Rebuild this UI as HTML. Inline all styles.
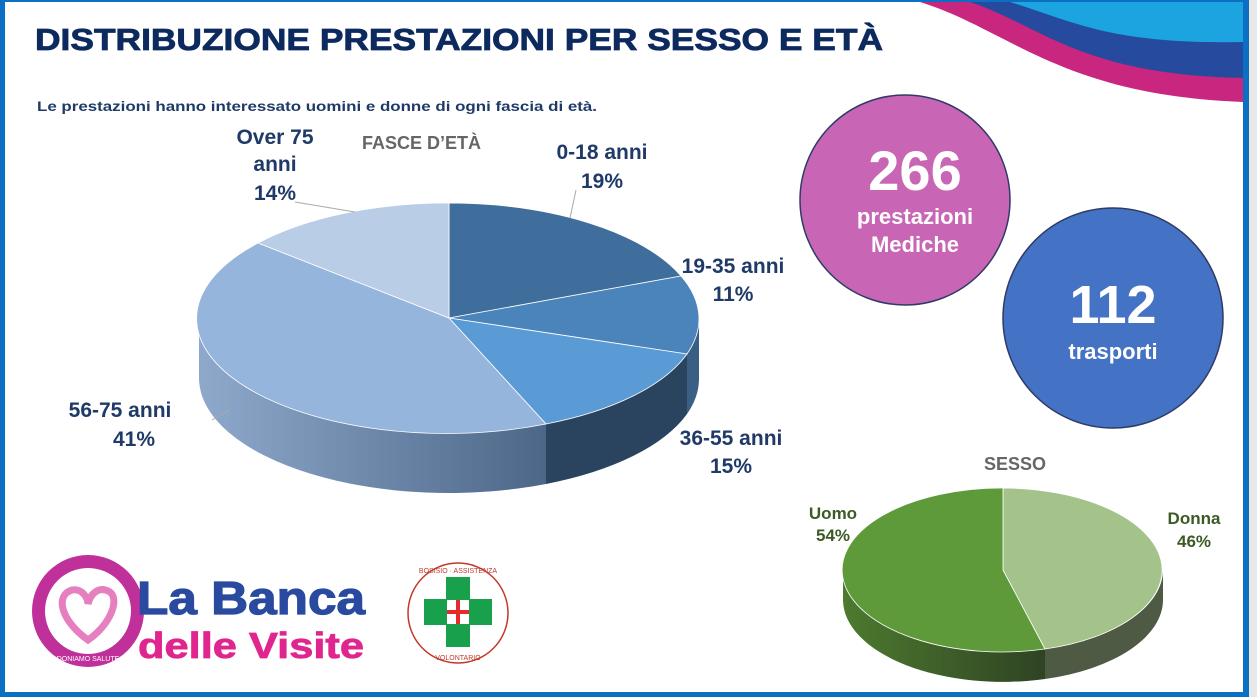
<!DOCTYPE html>
<html><head><meta charset="utf-8"><style>
html,body{margin:0;padding:0;background:#e8e8e8;}
svg{display:block;font-family:"Liberation Sans",sans-serif;}
</style></head><body>
<svg width="1257" height="697" viewBox="0 0 1257 697" xmlns="http://www.w3.org/2000/svg">
<defs>
<linearGradient id="s5675" x1="0" x2="1" y1="0" y2="0"><stop offset="0" stop-color="#8fa9cc"/><stop offset="1" stop-color="#4c6788"/></linearGradient>
<linearGradient id="su" x1="0" x2="1"><stop offset="0" stop-color="#4d7a2e"/><stop offset="1" stop-color="#2f4324"/></linearGradient>
</defs>
<rect x="0" y="0" width="1257" height="697" fill="#e8e8e8"/>
<rect x="0" y="0" width="1249" height="697" fill="#0b6fc4"/>
<rect x="5" y="2" width="1238" height="690" fill="#ffffff"/>
<!-- waves -->
<path d="M920,2 C1010,30 1060,95 1243,102 L1243,2 Z" fill="#c8267f"/>
<path d="M970,2 C1040,25 1080,75 1243,78 L1243,2 Z" fill="#264a9e"/>
<path d="M1010,2 C1070,20 1110,45 1243,42 L1243,2 Z" fill="#1ba4e0"/>
<text x="35" y="50" font-size="31" font-weight="bold" fill="#0d2a5e" stroke="#0d2a5e" stroke-width="0.8" textLength="848" lengthAdjust="spacingAndGlyphs">DISTRIBUZIONE PRESTAZIONI PER SESSO E ETÀ</text>
<text x="37" y="111" font-size="14" font-weight="bold" fill="#1f3a68" textLength="560" lengthAdjust="spacingAndGlyphs">Le prestazioni hanno interessato uomini e donne di ogni fascia di età.</text>
<text x="362" y="149" font-size="18" font-weight="bold" fill="#666">FASCE D’ETÀ</text>
<!-- main pie sides -->
<path d="M699,318 A250,115 0 0 1 687,354 L687,414 A250,115 0 0 0 699,378 Z" fill="#3a5f85"/>
<path d="M687,354 A250,115 0 0 1 546,424 L546,484 A250,115 0 0 0 687,414 Z" fill="#2a4460"/>
<path d="M546,424 A250,115 0 0 1 199,318 L199,378 A250,115 0 0 0 546,484 Z" fill="url(#s5675)"/>
<!-- main pie top -->
<g stroke="#fff" stroke-width="0.8">
<path d="M449,318 L449,203 A250,115 0 0 1 681,276 Z" fill="#3f6d9c"/>
<path d="M449,318 L681,276 A250,115 0 0 1 687,354 Z" fill="#4a84bb"/>
<path d="M449,318 L687,354 A250,115 0 0 1 546,424 Z" fill="#5b9bd5"/>
<path d="M449,318 L546,424 A250,115 0 0 1 258,243 Z" fill="#95b5dc"/>
<path d="M449,318 L258,243 A250,115 0 0 1 449,203 Z" fill="#b9cde6"/>
</g>
<line x1="570" y1="218" x2="576" y2="190" stroke="#aaa"/>
<line x1="355" y1="212" x2="295" y2="202" stroke="#aaa"/>
<line x1="230" y1="410" x2="212" y2="420" stroke="#aaa"/>
<g font-size="21" font-weight="bold" fill="#1f3a68" text-anchor="middle">
<text x="602" y="159">0-18 anni</text><text x="602" y="188">19%</text>
<text x="733" y="273">19-35 anni</text><text x="733" y="301">11%</text>
<text x="731" y="445">36-55 anni</text><text x="731" y="473">15%</text>
<text x="120" y="417">56-75 anni</text><text x="134" y="446">41%</text>
<text x="275" y="144">Over 75</text><text x="275" y="171">anni</text><text x="275" y="200">14%</text>
</g>
<!-- bubbles -->
<circle cx="905" cy="200" r="105" fill="#c865b5" stroke="#2f3b66" stroke-width="1.5"/>
<circle cx="1113" cy="318" r="110" fill="#4472c4" stroke="#2f3b66" stroke-width="1.5"/>
<g fill="#fff" font-weight="bold" text-anchor="middle">
<text x="915" y="190" font-size="56">266</text>
<text x="915" y="224" font-size="22">prestazioni</text>
<text x="915" y="252" font-size="22">Mediche</text>
<text x="1113" y="323" font-size="54">112</text>
<text x="1113" y="359" font-size="22">trasporti</text>
</g>
<!-- sex pie -->
<text x="1015" y="470" font-size="18" font-weight="bold" fill="#666" text-anchor="middle">SESSO</text>
<path d="M1163,570 A160,82 0 0 1 1045,649 L1045,679 A160,82 0 0 0 1163,600 Z" fill="#4f5a45"/>
<path d="M1045,649 A160,82 0 0 1 843,570 L843,600 A160,82 0 0 0 1045,679 Z" fill="url(#su)"/>
<path d="M1003,570 L1003,488 A160,82 0 0 1 1045,649 Z" fill="#a3c38b" stroke="#fff" stroke-width="0.8"/>
<path d="M1003,570 L1045,649 A160,82 0 1 1 1003,488 Z" fill="#5e9a3a" stroke="#fff" stroke-width="0.8"/>
<g font-size="17" font-weight="bold" fill="#3c5a24" text-anchor="middle">
<text x="833" y="519">Uomo</text><text x="833" y="541">54%</text>
<text x="1194" y="524">Donna</text><text x="1194" y="547">46%</text>
</g>
<!-- logos -->
<circle cx="88" cy="611" r="56" fill="#c0309a"/>
<circle cx="88" cy="611" r="43" fill="#fff"/>
<path d="M88,640 C60,620 55,595 72,590 C82,588 88,598 88,604 C90,595 98,585 110,592 C120,600 110,625 88,640Z" fill="none" stroke="#e57fbf" stroke-width="7"/>
<text x="88" y="584" font-size="8" fill="#fff" text-anchor="middle">INSIEME</text>
<text x="88" y="661" font-size="7" fill="#fff" text-anchor="middle">DONIAMO SALUTE</text>
<text x="137" y="614" font-size="46" font-weight="bold" fill="#2a4a9f" stroke="#2a4a9f" stroke-width="1.2" textLength="228" lengthAdjust="spacingAndGlyphs">La Banca</text>
<text x="138" y="658" font-size="36" font-weight="bold" fill="#e0268e" stroke="#e0268e" stroke-width="0.8" textLength="226" lengthAdjust="spacingAndGlyphs">delle Visite</text>
<circle cx="458" cy="613" r="50" fill="#fff" stroke="#c0392b" stroke-width="1.5"/>
<path d="M446,577 h24 v22 h22 v26 h-22 v22 h-24 v-22 h-22 v-26 h22 Z" fill="#19a04c"/>
<rect x="447" y="600" width="22" height="24" fill="#fff"/>
<rect x="456" y="600" width="4" height="24" fill="#e52b2b"/><rect x="447" y="610" width="22" height="4" fill="#e52b2b"/>
<text x="458" y="573" font-size="7" fill="#c0392b" text-anchor="middle">BOSISIO · ASSISTENZA</text>
<text x="458" y="660" font-size="7" fill="#c0392b" text-anchor="middle">VOLONTARIO</text>
</svg>
</body></html>
